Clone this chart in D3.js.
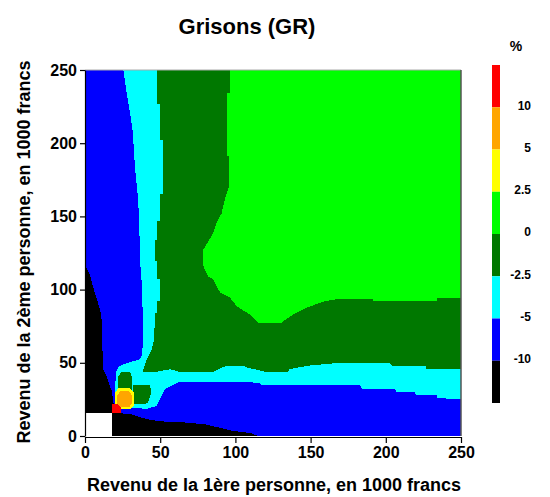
<!DOCTYPE html>
<html lang="fr">
<head>
<meta charset="utf-8">
<title>Grisons (GR)</title>
<style>
  body { margin: 0; background: #fff; }
  svg text { font-family: "Liberation Sans", Arial, sans-serif; font-weight: bold; fill: #000; }
  .axis path, .axis line { stroke: #000; stroke-width: 1.2px; }
</style>
</head>
<body>
<svg id="chart" width="550" height="497"></svg>
<script src="https://cdn.jsdelivr.net/npm/d3@7"></script>
<script>

// ticks and legend classes
var xTicks = [0, 50, 100, 150, 200, 250];
var yTicks = [0, 50, 100, 150, 200, 250];
var classLabels = ["10", "5", "2.5", "0", "-2.5", "-5", "-10"];
var classColors = ["#ff0000", "#ffa500", "#ffff00", "#00ff00", "#007800", "#00ffff", "#0000ff", "#000000"];

// zones, [revenu 1, revenu 2] in 1000 francs
var blackZone = [[0,0],[115,0],[110,2],[98,3.5],[80,8],[63,9.5],[50,10],[41,11.5],[30,15],[21,15.7],
  [19,17],[19,22],[18,30],[15,39],[12.2,45.6],[11.3,66],[11.3,78],[10,86.5],[8,93],[5.3,102],
  [3.3,110],[1,115],[0,116]];

var cyanZone = [[25.5,250],[27.7,234],[30,220.7],[31.7,208],[33.2,184],[35.4,161],[36.6,127],
  [36.6,120],[37.7,105],[38.8,71],[38.8,66],[37.7,55],[36.6,52.5],[25.5,49],[22,47],[20.5,43.4],
  [20,30],[20,21],[22,19],[31,19.5],[41,18.4],[47.6,20.6],[51,27.5],[53,32],[57.6,34.3],[63,37],
  [116,36.5],[117.5,34.7],[183,34.7],[184,32.4],[206,32.4],[207,30],[219,30],[220,28],[234,28],
  [234,26],[250,25],[250,250]];

var darkGreenZone = [[48,250],[48,227],[50,227],[50,202],[51.6,202],[51.6,165],[50,165],[50,146.7],
  [48,146.7],[48,134],[46.5,134],[46.5,119.4],[48,119.4],[48,107],[50,107],[50,92],[48,92],[48,84],
  [46.5,84],[46,66],[44.3,59],[41,52.5],[38.8,45.6],[38.8,43.4],[45.4,43.4],[56.5,45.6],[63,43.8],
  [85,43.8],[94,48],[106,48],[107,47],[120,43.8],[135,43.8],[136,45.6],[148,48],[166,49.7],
  [203,49.7],[204,48],[227,48],[227,46],[250,46],[250,250]];

var greenZone = [[96.4,250],[96.4,234],[94.6,234],[94.6,191],[96,191],[96,170.5],[94.2,166],
  [92.4,159],[90.8,152],[87.5,145.5],[85.3,138.7],[82,133],[78.7,127.4],[78.7,116],[82,109],
  [85.3,107],[89.8,98],[96.4,94.5],[100.8,88.8],[107.5,84.3],[109.7,83],[115.2,77.4],[130.8,77.4],
  [131.8,78.5],[138.5,83],[147.3,87.6],[159.6,92.2],[169.5,93.7],[191.7,93.7],[191.7,92.2],
  [233.8,92.2],[233.8,94.5],[250,94.5],[250,250]];

var blobLeft = [[22,30],[22,40.5],[24,43.4],[30,43.4],[31,41],[31,30]];
var blobRight = [[32,34.7],[43,34.7],[44.3,30],[42,23],[40,21.8],[32,21.8]];
var yellowZone = [[22,32.5],[30,32.5],[32.5,29.5],[32.5,21],[30,18.5],[22,18.5],[20,21],[20,29.5]];
var orangeZone = [[23.5,30.5],[29.5,30.5],[31,28],[31,22],[29.5,20],[23.5,20],[21.5,22],[21.5,28]];
var redZone = [[17.7,16],[23.7,16],[23.7,19.5],[22,21.8],[17.7,21.8]];
var noDataZone = [[0,0],[18,0],[18,16],[0,16]];

var svg = d3.select("#chart");
svg.append("rect").attr("width", 550).attr("height", 497).attr("fill", "#fff");

var x = d3.scaleLinear().domain([0, 250]).range([85, 461]);
var y = d3.scaleLinear().domain([0, 250]).range([436, 70]);

var line = d3.line()
    .x(function(d) { return x(d[0]); })
    .y(function(d) { return y(d[1]); });

var plot = svg.append("g").attr("shape-rendering", "crispEdges");

// blue is the background of the plot
plot.append("rect")
    .attr("x", x(0)).attr("y", y(250))
    .attr("width", x(250) - x(0)).attr("height", y(0) - y(250))
    .attr("fill", classColors[6]);

var layers = [
  [blackZone, classColors[7]],
  [cyanZone, classColors[5]],
  [darkGreenZone, classColors[4]],
  [greenZone, classColors[3]],
  [blobLeft, classColors[4]],
  [blobRight, classColors[4]],
  [yellowZone, classColors[2]],
  [orangeZone, classColors[1]],
  [redZone, classColors[0]],
  [noDataZone, "#fff"]
];

plot.selectAll("path.zone")
    .data(layers)
    .enter().append("path")
    .attr("class", "zone")
    .attr("d", function(d) { return line(d[0]) + "Z"; })
    .attr("fill", function(d) { return d[1]; });

// frame top and right
svg.append("line").attr("x1", x(0)).attr("x2", x(250)).attr("y1", y(250)).attr("y2", y(250))
    .attr("stroke", "#aaa").attr("stroke-width", 1);
svg.append("line").attr("x1", x(250)).attr("x2", x(250)).attr("y1", y(250)).attr("y2", y(0))
    .attr("stroke", "#555").attr("stroke-width", 1.5);

var xAxis = svg.append("g").attr("class", "axis")
    .attr("transform", "translate(0," + (y(0) + 1) + ")")
    .call(d3.axisBottom(x).tickValues(xTicks).tickSize(6).tickSizeOuter(0).tickPadding(4));
xAxis.selectAll("text").style("font-size", "16px");

var yAxis = svg.append("g").attr("class", "axis")
    .attr("transform", "translate(" + x(0) + ",0)")
    .call(d3.axisLeft(y).tickValues(yTicks).tickSize(5).tickSizeOuter(0).tickPadding(3));
yAxis.selectAll("text").style("font-size", "16px");

svg.append("text")
    .attr("x", 247).attr("y", 34)
    .attr("text-anchor", "middle")
    .style("font-size", "22px")
    .text("Grisons (GR)");

svg.append("text")
    .attr("x", 274).attr("y", 491)
    .attr("text-anchor", "middle")
    .style("font-size", "18px")
    .text("Revenu de la 1ère personne, en 1000 francs");

svg.append("text")
    .attr("transform", "translate(30,252) rotate(-90)")
    .attr("text-anchor", "middle")
    .style("font-size", "18px")
    .text("Revenu de la 2ème personne, en 1000 francs");

// colour legend
var legendY = d3.scaleLinear().domain([0, classColors.length]).range([65, 403]);
var legend = svg.append("g");

legend.selectAll("rect")
    .data(classColors)
    .enter().append("rect")
    .attr("x", 492).attr("width", 8)
    .attr("y", function(d, i) { return legendY(i); })
    .attr("height", function(d, i) { return legendY(i + 1) - legendY(i); })
    .attr("fill", function(d) { return d; });

legend.selectAll("text")
    .data(classLabels)
    .enter().append("text")
    .attr("x", 531)
    .attr("y", function(d, i) { return legendY(i + 1); })
    .attr("dy", "0.2em")
    .attr("text-anchor", "end")
    .style("font-size", "12px")
    .text(function(d) { return d; });

legend.append("text")
    .attr("x", 516).attr("y", 51)
    .attr("text-anchor", "middle")
    .style("font-size", "14px")
    .text("%");

</script>
</body>
</html>
